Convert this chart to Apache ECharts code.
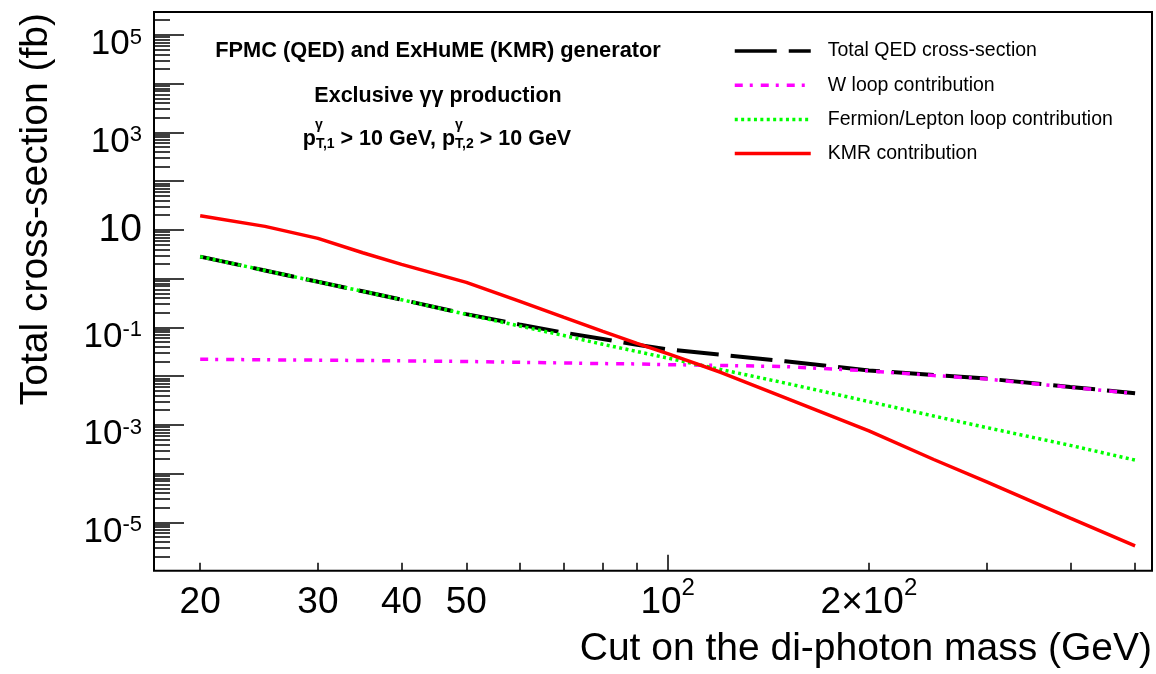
<!DOCTYPE html>
<html>
<head>
<meta charset="utf-8">
<title>Exclusive diphoton cross-section</title>
<script src="https://cdn.jsdelivr.net/npm/echarts@6/dist/echarts.min.js"></script>
<style>
  html, body { margin: 0; padding: 0; background: #fff; }
  #chart { width: 1156px; height: 674px; }
</style>
</head>
<body>
<div id="chart"></div>
<script>
// cut on the di-photon mass (GeV)
const massCut = [20, 25, 30, 35, 40, 50, 60, 70, 80, 90, 100, 120, 150, 200, 250, 300, 400, 500];
// cross-sections (fb)
const totalQED = [2.83, 1.47, 0.86, 0.55, 0.37, 0.187, 0.115, 0.078, 0.058, 0.044, 0.0353, 0.0276, 0.0202, 0.0131, 0.0106, 0.0089, 0.0060, 0.00446];
const wLoop = [0.0222, 0.0216, 0.0213, 0.0209, 0.0206, 0.0200, 0.0192, 0.0186, 0.0181, 0.0178, 0.0172, 0.0166, 0.0157, 0.0128, 0.0103, 0.0087, 0.0059, 0.0044];
const fermionLoop = [2.83, 1.47, 0.86, 0.55, 0.37, 0.185, 0.107, 0.068, 0.045, 0.032, 0.0235, 0.0137, 0.0072, 0.0030, 0.00152, 0.00088, 0.00038, 0.00019];
const kmr = [19.5, 11.8, 6.7, 3.4, 1.96, 0.84, 0.346, 0.16, 0.083, 0.047, 0.029, 0.012, 0.0036, 0.00075, 0.000195, 0.0000675, 0.0000122, 0.0000033];

const seriesNames = ["Total QED cross-section", "W loop contribution", "Fermion/Lepton loop contribution", "KMR contribution"];

// axis ranges and ticks
const xRange = [17.06, 530];
const yRange = [1.02e-6, 2.95e5];
const xMinorTicks = [20, 30, 40, 50, 60, 70, 80, 90, 200, 300, 400, 500];
const xMajorTicks = [100];
const xTickLabels = [20, 30, 40, 50, 100, 200];
const yDecades = [-5, -4, -3, -2, -1, 0, 1, 2, 3, 4, 5];
const yLabelExp = [5, 3, 1, -1, -3, -5];

const SANS = "'Liberation Sans', Arial, Helvetica, sans-serif";

const lg = (v) => Math.log10(v);
const lgMin = lg(yRange[0]);
const lgMax = lg(yRange[1]);

// 2..9 x 10^n minor ticks inside the y range
let yMinorTicks = [];
for (let n = -6; n <= 5; n++) {
  for (let k = 2; k <= 9; k++) {
    const v = lg(k) + n;
    if (v > lgMin && v < lgMax) yMinorTicks.push(v);
  }
}

const tickStyle = { color: "#000", width: 1.5 };
const noLine = { show: false, onZero: false };
const pairs = (ys) => massCut.map((x, i) => [x, ys[i]]);

const chart = echarts.init(document.getElementById("chart"));

const option = {
  animation: false,
  backgroundColor: "#fff",
  textStyle: { fontFamily: SANS },
  grid: {
    left: 154,
    right: 4,
    top: 12,
    bottom: 103.3,
    show: true,
    borderColor: "#000",
    borderWidth: 2,
    containLabel: false,
    outerBoundsMode: "none",
  },
  legend: {
    orient: "vertical",
    left: 728,
    top: 36,
    itemWidth: 76,
    itemHeight: 14,
    itemGap: 14.2,
    selectedMode: false,
    lineStyle: { width: 3.5 },
    itemStyle: { opacity: 0 },
    textStyle: {
      fontFamily: SANS,
      fontSize: 19.5,
      color: "#000",
      lineHeight: 20,
      padding: [0, 0, 0, 12],
    },
    data: seriesNames,
  },
  xAxis: [
    { type: "log", min: xRange[0], max: xRange[1], show: false },
    {
      type: "value",
      position: "bottom",
      min: lg(xRange[0]),
      max: lg(xRange[1]),
      axisLine: noLine,
      splitLine: { show: false },
      axisLabel: { show: false },
      axisTick: {
        show: true,
        inside: true,
        length: 8,
        customValues: xMinorTicks.map(lg),
        lineStyle: tickStyle,
      },
    },
    {
      type: "value",
      position: "bottom",
      min: lg(xRange[0]),
      max: lg(xRange[1]),
      axisLine: noLine,
      splitLine: { show: false },
      axisTick: {
        show: true,
        inside: true,
        length: 16,
        customValues: xMajorTicks.map(lg),
        lineStyle: tickStyle,
      },
      axisLabel: {
        show: true,
        margin: 6,
        customValues: xTickLabels.map(lg),
        formatter: (v) => {
          const n = Math.round(Math.pow(10, v));
          if (n === 100) return "{b|10}{s|2}";
          if (n === 200) return "{b|2\u00d710}{s|2}";
          return "{p|" + n + "}";
        },
        rich: {
          p: { fontSize: 37, lineHeight: 38, color: "#000", padding: [8, 0, 0, 0], verticalAlign: "top" },
          b: { fontSize: 37, lineHeight: 38, color: "#000", padding: [8, 0, 0, 0], verticalAlign: "top" },
          s: { fontSize: 24, lineHeight: 24, color: "#000", verticalAlign: "top" },
        },
      },
    },
  ],
  yAxis: [
    { type: "log", min: yRange[0], max: yRange[1], show: false },
    {
      type: "value",
      position: "left",
      min: lgMin,
      max: lgMax,
      axisLine: noLine,
      splitLine: { show: false },
      axisLabel: { show: false },
      axisTick: {
        show: true,
        inside: true,
        length: 16,
        customValues: yMinorTicks,
        lineStyle: tickStyle,
      },
    },
    {
      type: "value",
      position: "left",
      min: lgMin,
      max: lgMax,
      axisLine: noLine,
      splitLine: { show: false },
      axisTick: {
        show: true,
        inside: true,
        length: 30,
        customValues: yDecades,
        lineStyle: tickStyle,
      },
      axisLabel: {
        show: true,
        margin: 12,
        customValues: yLabelExp,
        formatter: (v) => {
          const e = Math.round(v);
          if (e === 1) return "{p|10}";
          return "{b|10}{s|" + e + "}";
        },
        rich: {
          p: { fontSize: 39, lineHeight: 36, color: "#000", verticalAlign: "middle" },
          b: { fontSize: 35, lineHeight: 36, color: "#000", padding: [10, 0, 0, 0], verticalAlign: "top" },
          s: { fontSize: 22, lineHeight: 22, color: "#000", padding: [10, 0, 0, 0], verticalAlign: "top" },
        },
      },
    },
  ],
  series: [
    {
      name: seriesNames[0],
      type: "line",
      symbol: "none",
      data: pairs(totalQED),
      lineStyle: { color: "#000", width: 4, type: [42, 12] },
      itemStyle: { color: "#000" },
    },
    {
      name: seriesNames[1],
      type: "line",
      symbol: "none",
      data: pairs(wLoop),
      lineStyle: { color: "#ff00ff", width: 3.5, type: [8, 7, 3, 8] },
      itemStyle: { color: "#ff00ff" },
    },
    {
      name: seriesNames[2],
      type: "line",
      symbol: "none",
      data: pairs(fermionLoop),
      lineStyle: { color: "#00ff00", width: 3.5, type: [3, 3.4] },
      itemStyle: { color: "#00ff00" },
    },
    {
      name: seriesNames[3],
      type: "line",
      symbol: "none",
      data: pairs(kmr),
      lineStyle: { color: "#ff0000", width: 3.5 },
      itemStyle: { color: "#ff0000" },
    },
  ],
  graphic: [
    {
      type: "text",
      x: 36,
      y: 13,
      rotation: Math.PI / 2,
      style: {
        text: "Total cross-section (fb)",
        fontFamily: SANS,
        fontSize: 39,
        fill: "#000",
        align: "right",
        verticalAlign: "middle",
      },
    },
    {
      type: "text",
      x: 1152,
      y: 649,
      style: {
        text: "Cut on the di-photon mass (GeV)",
        fontFamily: SANS,
        fontSize: 39,
        fill: "#000",
        align: "right",
        verticalAlign: "middle",
      },
    },
    {
      type: "text",
      x: 438,
      y: 51,
      style: {
        text: "FPMC (QED) and ExHuME (KMR) generator",
        fontFamily: SANS,
        fontWeight: "bold",
        fontSize: 21.8,
        fill: "#000",
        align: "center",
        verticalAlign: "middle",
      },
    },
    {
      type: "text",
      x: 438,
      y: 96.5,
      style: {
        text: "Exclusive \u03b3\u03b3 production",
        fontFamily: SANS,
        fontWeight: "bold",
        fontSize: 21.5,
        fill: "#000",
        align: "center",
        verticalAlign: "middle",
      },
    },
    {
      type: "text",
      x: 437,
      y: 139.5,
      style: {
        text: "{m|p}{sb|T,1}{m| > 10 GeV, p}{sb|T,2}{m| > 10 GeV}",
        fill: "#000",
        align: "center",
        verticalAlign: "middle",
        rich: {
          m: { fontFamily: SANS, fontWeight: "bold", fontSize: 21.5, lineHeight: 24, verticalAlign: "middle" },
          sb: { fontFamily: SANS, fontWeight: "bold", fontSize: 14, lineHeight: 14, verticalAlign: "bottom" },
        },
      },
    },
    {
      type: "text",
      x: 315,
      y: 125,
      style: {
        text: "\u03b3",
        fontFamily: SANS,
        fontWeight: "bold",
        fontSize: 14,
        fill: "#000",
        align: "left",
        verticalAlign: "middle",
      },
    },
    {
      type: "text",
      x: 455,
      y: 125,
      style: {
        text: "\u03b3",
        fontFamily: SANS,
        fontWeight: "bold",
        fontSize: 14,
        fill: "#000",
        align: "left",
        verticalAlign: "middle",
      },
    },
  ],
};

chart.setOption(option);
</script>
</body>
</html>
